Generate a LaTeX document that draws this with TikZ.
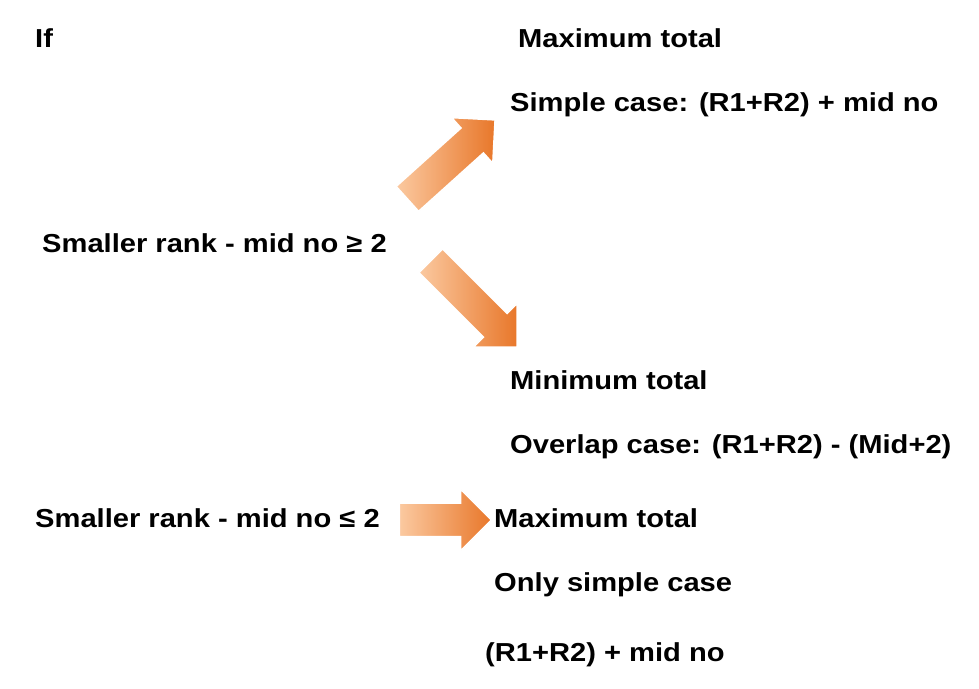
\documentclass[tikz,border=0pt]{standalone}
\usepackage{fontspec}
\setmainfont{Liberation Sans}[FakeStretch=1.12]
\usetikzlibrary{shapes.arrows}
\definecolor{arrowlight}{HTML}{FBC9A0}
\definecolor{arrowdark}{HTML}{E8772A}
\begin{document}
\begin{tikzpicture}
    [
        x=1pt, y=1pt,
        txt/.style={anchor=west, inner sep=0pt, font=\bfseries\fontsize{26}{30}\selectfont},
        blockarrow/.style={single arrow, draw=white, line width=1.5pt,
            inner xsep=0pt, inner ysep=16pt,
            minimum height=#1, single arrow head extend=14,
            left color=arrowlight, right color=arrowdark},
    ]
    \useasboundingbox (0,0) rectangle (979,688);

    % labels
    \node (iflbl) at (35,650)   [txt] {If};
    \node (max1)  at (518,650)  [txt] {Maximum total};
    \node (simp)  at (510,583)  [txt] {Simple case: (R1+R2) + mid no};
    \node (cond1) at (42,445)   [txt] {Smaller rank - mid no ≥ 2};
    \node (min1)  at (510,308)  [txt] {Minimum total};
    \node (over)  at (510,241)  [txt] {Overlap case: (R1+R2) - (Mid+2)};
    \node (cond2) at (35,170)   [txt] {Smaller rank - mid no ≤ 2};
    \node (max2)  at (494,170)  [txt] {Maximum total};
    \node (only)  at (494,103)  [txt] {Only simple case};
    \node (form)  at (485,33)   [txt] {(R1+R2) + mid no};

    % arrows
    \node (up)    at (445,523)  [blockarrow=118, rotate=42] {};
    \node (down)  at (468,390)  [blockarrow=122, rotate=-45] {};
    \node (right) at (437,168)  [blockarrow=92] {};

\end{tikzpicture}
\end{document}
